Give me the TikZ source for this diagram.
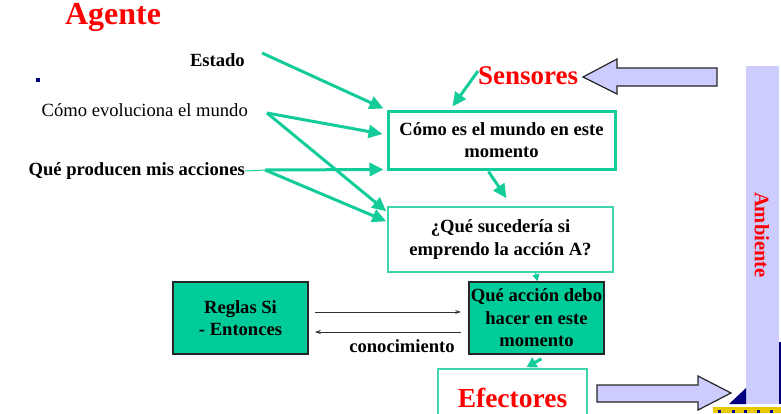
\documentclass[tikz,border=0pt]{standalone}
\usepackage{fontspec}
\setmainfont{Liberation Serif}
\usetikzlibrary{arrows.meta,calc}
\definecolor{teal1}{HTML}{14CC9A}
\definecolor{teal2}{HTML}{3DD6AC}
\definecolor{boxfill}{HTML}{00CC99}
\definecolor{lav}{HTML}{CCCCFF}
\definecolor{navy}{HTML}{000080}
\definecolor{ylw}{HTML}{E8C800}
\newcommand{\bodyfs}{\fontsize{18.6}{22.5}\selectfont}
\tikzset{
  lbl/.style={font=\bodyfs, inner sep=0pt},
  boxA/.style={draw=teal1, line width=3pt, fill=white, font=\bodyfs\bfseries, align=center, inner sep=2pt},
  boxB/.style={draw=teal2, line width=1.5pt, fill=white, font=\bodyfs\bfseries, align=center, inner sep=2pt},
  boxC/.style={draw=black!85, line width=1.5pt, fill=boxfill, font=\bodyfs\bfseries, align=center, inner sep=2pt},
  garrow/.style={draw=teal1, line width=3pt, -{Triangle[length=14pt,width=13pt]}},
  thinga/.style={draw=teal1, line width=1.2pt, -{Triangle[length=7pt,width=7pt]}},
  barrow/.style={draw=black!80, line width=1pt, -{Stealth[length=6pt,width=4pt]}},
  blockar/.style={fill=lav, draw=black!85, line width=1.2pt, line join=miter},
  redtitle/.style={text=red, font=\bfseries, inner sep=0pt}
}
\begin{document}
\begin{tikzpicture}[x=1pt,y=-1pt]
\useasboundingbox (0,0) rectangle (781,413);
% environment bar
\fill[lav] (746,66) rectangle (779,404);
\fill[navy] (779,342) rectangle (781,404);
\fill[navy] (729,404) -- (746,388) -- (746,404) -- cycle;
\fill[ylw] (713,407) rectangle (781,413);
\foreach \xx in {718,732,744,757,770} {
  \fill[navy] (\xx,410) rectangle (\xx+2.5,413);
}
\node[redtitle, font=\fontsize{20.6}{22}\selectfont\bfseries, rotate=-90] (amb) at (762,235) {Ambiente};

% titles
\node[redtitle, font=\fontsize{32}{34}\selectfont\bfseries] (agente) at (113,17) {Agente};
\node[redtitle, font=\fontsize{27}{30}\selectfont\bfseries] (sens) at (528,76) {Sensores};

% block arrows
\draw[blockar] (583,77) -- (617,59) -- (617,68) -- (717,68) -- (717,86) -- (617,86) -- (617,94) -- cycle;
\draw[blockar] (731,393) -- (698,376) -- (698,385) -- (597,385) -- (597,402) -- (698,402) -- (698,410) -- cycle;

% dot
\fill[navy] (36,78) rectangle (40,82);

% labels
\node[lbl, font=\bodyfs\bfseries, anchor=east] (estado) at (245,60) {Estado};
\node[lbl, anchor=east] (evol) at (248,110) {Cómo evoluciona el mundo};
\node[lbl, font=\bodyfs\bfseries, anchor=east] (produc) at (245,171) {Qué producen mis acciones};

% boxes
\node[boxA, minimum width=227pt, minimum height=58pt] (b1) at (501.5,140) {Cómo es el mundo en este\\momento};
\node[boxB, minimum width=225pt, minimum height=65pt] (b2) at (500.5,239.5) {¿Qué sucedería si\\emprendo la acción A?};
\node[boxC, minimum width=135pt, minimum height=72pt] (b3) at (536.5,318) {Qué acción debo\\hacer en este\\momento};
\node[boxC, minimum width=135pt, minimum height=72pt] (b4) at (240.5,318) {Reglas Si\\- Entonces};
\node[boxB, minimum width=149pt, minimum height=58pt, font=\fontsize{27.5}{30}\selectfont\bfseries, text=red] (efec) at (512.5,398) {Efectores};

\node[lbl, font=\bodyfs\bfseries] (conoc) at (402,346) {conocimiento};

% coordinates for arrow starts
\coordinate (estS) at (262,53);
\coordinate (evoS) at (267,113);
\coordinate (proS) at (265,170);
\coordinate (senS) at (478,71);

% teal arrows
\draw[garrow] (estS) -- ($(b1.north west)+(-3,-1)$);
\draw[garrow] (evoS) -- ($(b1.west)+(-4,-6)$);
\draw[garrow] (evoS) -- ($(b2.north west)+(-1,5)$);
\draw[teal1, line width=1pt] (produc.east) -- (proS);
\draw[garrow] (proS) -- ($(b1.south west)+(-3,-1)$);
\draw[garrow] (proS) -- ($(b2.north west)+(-1,15)$);
\draw[garrow] (senS) -- ($(b1.north west)+(66,-3)$);
\draw[garrow] ($(b1.south)+(-13,1)$) -- ($(b2.north)+(6,-8)$);
\draw[thinga] ($(b2.south)+(35,0)$) -- ($(b3.north)+(1,0)$);
\draw[garrow, -{Triangle[length=10pt,width=11pt]}] ($(b3.south)+(5,4)$) -- ($(efec.north)+(14,-1)$);

% black arrows
\draw[barrow] ($(b4.east)+(6,-6)$) -- ($(b3.west)+(-7,-6)$);
\draw[barrow] ($(b3.west)+(-7,14)$) -- ($(b4.east)+(6,14)$);
\end{tikzpicture}
\end{document}
